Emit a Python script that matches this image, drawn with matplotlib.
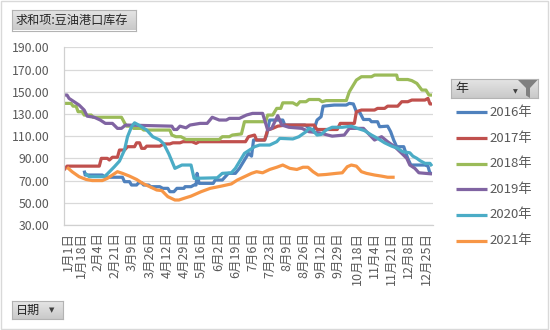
# -*- coding: utf-8 -*-

""" 豆油港口库存 by year """

import numpy as np
import pandas as pd
import matplotlib
matplotlib.use("Agg")
import matplotlib.pyplot as plt
from matplotlib.colors import LinearSegmentedColormap
from matplotlib.patches import Polygon, Rectangle
from matplotlib.lines import Line2D
from matplotlib.ticker import FormatStrFormatter
from matplotlib.transforms import ScaledTranslation

plt.rcParams['font.family'] = ['Noto Sans CJK SC', 'DejaVu Sans']

# Series (month-day of each reading, stock in 10k tons)
dates_2016 = ['01-21', '01-22', '02-08', '02-10', '02-15', '02-28', '03-01', '03-06', '03-08',
              '03-13', '03-15', '03-18', '03-20', '03-25', '03-27', '04-05', '04-08', '04-13',
              '04-15', '04-19', '04-22', '04-29', '04-30', '05-06', '05-09', '05-11', '05-12',
              '05-14', '05-28', '05-30', '06-06', '06-09', '06-12', '06-19', '06-23', '06-26',
              '06-29', '07-02', '07-05', '07-07', '07-18', '07-20', '07-23', '08-05', '08-07',
              '08-27', '09-02', '09-05', '09-08', '09-12', '09-14', '09-25', '10-07', '10-10',
              '10-14', '10-17', '10-20', '10-24', '10-30', '11-01', '11-07', '11-09', '11-17',
              '11-20', '11-23', '11-26', '12-03', '12-05', '12-07', '12-10', '12-24', '12-27',
              '12-29', '12-31']
stock_2016 = [79, 75, 75, 73.5, 73, 73, 69, 69, 66,
              66, 68, 68, 66, 66, 64.5, 64.5, 63, 63,
              60, 60, 63, 63, 64.5, 64.5, 66, 66, 76.5,
              67.5, 67.5, 70.5, 70.5, 73.5, 76.5, 76.5, 81, 85.5,
              90, 94.5, 92, 106.5, 106.5, 111, 124.5, 124.5, 120,
              120, 116, 116, 124.5, 127.5, 137, 138, 138, 139.5,
              139, 132, 132, 125, 125, 123, 123, 118.5, 119,
              114, 106.5, 100.5, 100.5, 95, 90, 84, 84, 83,
              76.5, 76.5]

dates_2017 = ['01-01', '01-04', '02-05', '02-07', '02-13', '02-15', '02-18', '02-23', '02-25',
              '03-01', '03-04', '03-11', '03-13', '03-16', '03-18', '03-21', '03-23', '04-05',
              '04-09', '04-15', '04-18', '04-25', '04-28', '05-07', '05-11', '05-14', '06-29',
              '07-02', '07-08', '07-10', '07-18', '07-21', '07-26', '07-31', '08-08', '09-05',
              '09-08', '09-28', '10-01', '10-15', '10-17', '10-22', '11-04', '11-07', '11-14',
              '11-17', '11-27', '12-01', '12-07', '12-11', '12-24', '12-27', '12-29', '12-31']
stock_2017 = [79.5, 83, 83, 90, 90, 88.5, 91, 91, 97.5,
              97.5, 100.5, 100.5, 104, 104, 99, 99, 101, 101,
              103, 103, 104, 104, 105, 105, 103.5, 105, 105,
              109.5, 111, 106.5, 106.5, 115.5, 117, 119, 120, 120,
              116, 116, 121.5, 121.5, 132, 133.5, 133.5, 135, 135,
              137, 137, 141, 141, 142.5, 142.5, 144, 139, 139]

dates_2018 = ['01-01', '01-08', '01-10', '01-13', '01-15', '01-19', '01-21', '01-28', '01-30',
              '02-27', '03-01', '03-03', '03-08', '03-10', '03-18', '03-20', '04-15', '04-17',
              '04-21', '04-26', '05-01', '06-03', '06-06', '06-13', '06-16', '06-25', '06-28',
              '07-19', '07-21', '07-26', '07-30', '08-03', '08-05', '08-15', '08-19', '08-22',
              '08-28', '08-31', '09-10', '09-13', '09-17', '10-07', '10-10', '10-17', '10-22',
              '11-01', '11-04', '11-26', '11-27', '12-07', '12-11', '12-16', '12-21', '12-25',
              '12-28', '12-31']
stock_2018 = [139.5, 139.5, 137, 137, 132, 132, 129, 129, 127,
              127, 122, 119, 119, 117, 117, 115.5, 115.5, 111,
              109.5, 109.5, 107, 107, 109.5, 109.5, 111, 112, 123,
              123, 129, 129, 135, 135, 140, 140, 138, 141,
              141, 143, 143, 141, 142, 142, 150, 160.5, 163.5,
              163.5, 165, 165, 161, 161, 160, 157.5, 151.5, 151.5,
              147, 147]

dates_2019 = ['01-01', '01-04', '01-06', '01-11', '01-16', '01-21', '01-24', '01-31', '02-06',
              '02-11', '02-18', '02-23', '02-27', '03-02', '04-17', '04-19', '04-22', '04-25',
              '05-01', '05-05', '05-15', '05-22', '05-27', '06-03', '06-10', '06-13', '06-23',
              '06-30', '07-06', '07-16', '07-21', '07-25', '07-31', '08-04', '08-11', '08-24',
              '08-31', '09-10', '09-23', '10-05', '10-10', '10-24', '11-04', '11-11', '11-17',
              '11-24', '12-01', '12-06', '12-09', '12-14', '12-18', '12-31']
stock_2019 = [147, 147, 144, 141, 138, 133.5, 128, 127, 124.5,
              121.5, 121.5, 117, 117, 120, 119, 116, 116, 119,
              117.5, 120, 121.5, 121.5, 127, 124.5, 124.5, 126, 126,
              129, 130.5, 130.5, 115.5, 117, 128.5, 120, 118, 117,
              114, 113, 110, 111, 117, 117, 106.5, 109.5, 105,
              100.5, 94.5, 90, 84, 81, 77, 76]

dates_2020 = ['01-22', '01-26', '02-10', '02-13', '02-20', '02-25', '03-01', '03-04', '03-08',
              '03-11', '03-16', '03-23', '03-29', '04-05', '04-09', '04-14', '04-20', '04-27',
              '05-06', '05-09', '06-01', '06-06', '06-15', '06-19', '06-22', '06-25', '06-28',
              '07-03', '07-08', '07-13', '07-23', '07-30', '08-02', '08-15', '08-21', '08-28',
              '08-31', '09-03', '09-08', '09-12', '09-17', '09-23', '10-03', '10-12', '10-18',
              '10-25', '11-01', '11-07', '11-14', '11-21', '11-27', '12-02', '12-09', '12-12',
              '12-16', '12-19', '12-24', '12-29', '12-31']
stock_2020 = [76.5, 73.5, 73.5, 76, 82.5, 87.5, 97.5, 109.5, 118.5,
              122, 119.5, 115.5, 109.5, 106.5, 103, 94, 81, 84,
              84, 72, 72.5, 76.5, 77, 81, 85.5, 90, 94.5,
              97.5, 100.5, 102, 102, 105, 108, 107.5, 109.5, 114,
              117, 116, 111, 111.5, 115.5, 118, 118, 119, 117,
              115, 111, 108, 104, 101, 99, 96, 95, 92,
              90, 88, 85.5, 85.5, 83]

dates_2021 = ['01-04', '01-09', '01-16', '01-23', '01-29', '02-08', '02-13', '02-18', '02-23',
              '02-28', '03-06', '03-13', '03-19', '03-26', '04-02', '04-07', '04-13', '04-20',
              '04-24', '04-29', '05-06', '05-16', '05-25', '06-05', '06-15', '06-21', '06-28',
              '07-05', '07-10', '07-16', '07-23', '07-30', '08-05', '08-12', '08-19', '08-25',
              '08-30', '09-04', '09-09', '09-17', '09-27', '10-03', '10-08', '10-12', '10-17',
              '10-22', '10-27', '11-04', '11-11', '11-17', '11-24']
stock_2021 = [82, 78, 73.5, 71, 70, 70, 72, 75, 78,
              76.5, 74, 71, 67.5, 64.5, 61.5, 61, 55.5, 52.5,
              52.5, 54, 56, 60, 63, 65, 67, 70.5, 73.5,
              76.5, 78, 77, 80, 82, 84, 81, 80, 82,
              82, 78, 75, 75.5, 76.5, 77, 82.5, 84, 83,
              78, 76.5, 75, 74, 73, 73]

years = ['2016年', '2017年', '2018年', '2019年', '2020年', '2021年']
series_dates = [dates_2016, dates_2017, dates_2018, dates_2019, dates_2020, dates_2021]
series_stock = [stock_2016, stock_2017, stock_2018, stock_2019, stock_2020, stock_2021]
colors = ['#4F81BD', '#C0504D', '#9BBB59', '#8064A2', '#4BACC6', '#F79646']

# Axis labels every 17 days
tick_dates = ['01-01', '01-18', '02-04', '02-21', '03-09', '03-26', '04-12', '04-29', '05-16',
              '06-02', '06-19', '07-06', '07-23', '08-09', '08-26', '09-12', '09-29', '10-18',
              '11-04', '11-21', '12-08', '12-25']

W, H = 550, 330
BASE = '2020-'  # leap-year calendar so every month-day fits


def to_dt(md):
    return pd.to_datetime([BASE + d for d in md])


fig = plt.figure(figsize=(W / 100, H / 100), dpi=100)
ax = fig.add_axes([64 / W, 1 - 225 / H, (433 - 64) / W, (225 - 47.3) / H])

for dates, stock, color in zip(series_dates, series_stock, colors):
    ax.plot(to_dt(dates), stock, color=color, lw=2.3, solid_joinstyle='round',
            solid_capstyle='butt')

ax.set_ylim(30, 190)
ax.set_yticks(np.arange(30, 191, 20))
ax.yaxis.set_major_formatter(FormatStrFormatter('%.2f'))
ax.set_xlim(pd.Timestamp('2020-01-01'), pd.Timestamp('2021-01-01'))

ticks = to_dt(tick_dates)
ax.set_xticks(ticks)
ax.set_xticklabels([f"{t.month}月{t.day}日" for t in ticks], rotation=90)

ax.yaxis.grid(True, color='#D9D9D9', lw=0.9)
ax.set_axisbelow(True)
for side in ['top', 'right']:
    ax.spines[side].set_visible(False)
for side in ['left', 'bottom']:
    ax.spines[side].set_color('#D0D0D0')
    ax.spines[side].set_linewidth(0.9)
ax.tick_params(axis='both', length=0, colors='#595959')
ax.tick_params(axis='y', labelsize=8.8, pad=10.5)
ax.tick_params(axis='x', labelsize=9, pad=5)

# first label is nudged right so it stays inside the plot
first = ax.get_xticklabels()[0]
first.set_transform(first.get_transform() + ScaledTranslation(4 / 100, 0, fig.dpi_scale_trans))

btn_cmap = LinearSegmentedColormap.from_list('btn', ['#E6E6E6', '#C9C9C9'])


def button(x0, y0, x1, y1, label, size):
    bax = fig.add_axes([x0 / W, 1 - y1 / H, (x1 - x0) / W, (y1 - y0) / H])
    bax.imshow(np.linspace(0, 1, 40).reshape(-1, 1), cmap=btn_cmap, aspect='auto',
               extent=[0, 1, 0, 1])
    bax.set_xticks([])
    bax.set_yticks([])
    for s in bax.spines.values():
        s.set_color('#B3B3B3')
        s.set_linewidth(0.8)
    bax.text(4 / (x1 - x0), 0.5, label, fontsize=size, color='#262626',
             va='center', ha='left', transform=bax.transAxes)
    return bax


def px(x, y):
    return (x / W, 1 - y / H)


button(12, 9.5, 136, 30.5, '求和项:豆油港口库存', 8.7)
button(12, 301, 62.5, 319, '日期', 8.7)
fig.text(*px(52, 310), '▼', fontsize=5, color='#404040', ha='center', va='center',
         family='DejaVu Sans')

# legend header with filter icon
button(451, 78.5, 538, 98, '年', 9.3)
fig.text(*px(515, 92), '▼', fontsize=4.5, color='#404040', ha='center', va='center',
         family='DejaVu Sans')
funnel = [px(518, 80), px(537.5, 80), px(530, 88), px(530, 98), px(526, 95.5), px(526, 88)]
fig.add_artist(Polygon(funnel, closed=True, transform=fig.transFigure,
                       facecolor='#808080', edgecolor='none'))

# legend entries
legend_y = [112.3, 138.1, 163.7, 189.3, 214.9, 240.5]
for label, color, y in zip(years, colors, legend_y):
    fig.add_artist(Line2D([456 / W, 487 / W], [1 - y / H] * 2, transform=fig.transFigure,
                          color=color, lw=2.3, solid_capstyle='butt'))
    fig.text(489 / W, 1 - y / H, label, fontsize=9.5, color='#595959', va='center', ha='left')

fig.add_artist(Rectangle((0.002, 0.003), 0.995, 0.994, transform=fig.transFigure,
                         fill=False, edgecolor='#D9D9D9', lw=1))

fig.savefig('out.png', dpi=100, facecolor='white')
